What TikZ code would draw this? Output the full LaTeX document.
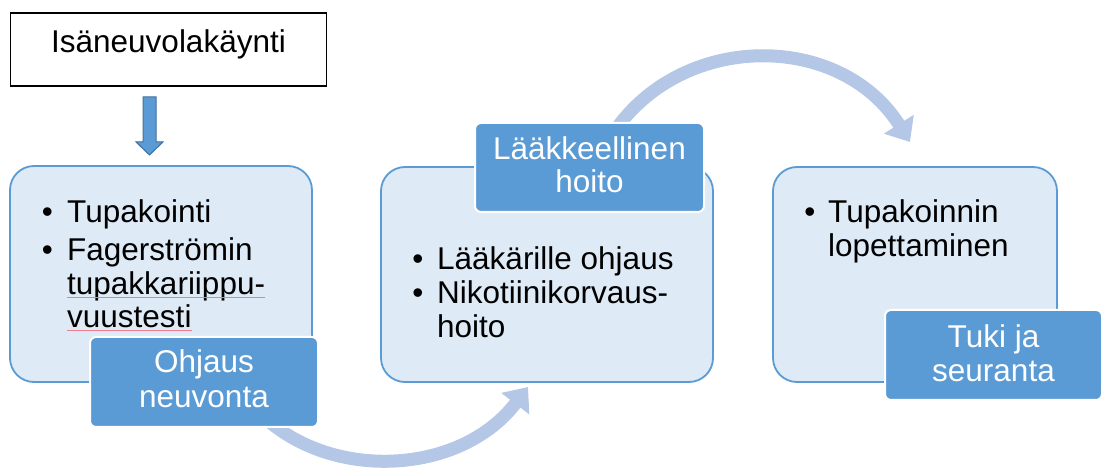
\documentclass[tikz,border=0pt]{standalone}
\usepackage{fontspec}
\setmainfont{Liberation Sans}
\usetikzlibrary{arrows.meta,calc}
\definecolor{boxfill}{RGB}{222,234,246}
\definecolor{accent}{RGB}{91,155,213}
\definecolor{accentdark}{RGB}{65,113,156}
\definecolor{flow}{RGB}{180,199,231}
\definecolor{spell}{RGB}{232,70,95}

\begin{document}
\begin{tikzpicture}[x=1pt,y=-1pt,
  bigfont/.style={font=\fontsize{31.5}{34}\selectfont},
  txt/.style={bigfont, inner sep=0pt, anchor=base west, text=black},
  dot/.style={bigfont, inner sep=0pt, anchor=base, text=black},
  lbltxt/.style={bigfont, inner sep=0pt, anchor=base, text=white},
  stagebox/.style={draw=accent, fill=boxfill, line width=1.8pt, rounded corners=24pt, inner sep=0pt},
  tagbox/.style={draw=white, fill=accent, line width=2pt, rounded corners=6pt, inner sep=0pt},
  headbox/.style={draw=black, fill=white, line width=1.5pt, inner sep=0pt},
  flowarrow/.style={draw=flow, line width=13pt, -{Triangle[length=21pt,width=34pt]}},
  squiggle/.style={draw=spell!70, line width=0.7pt}
]
\useasboundingbox (0,0) rectangle (1104,470);

% curved flow arrows (drawn first so the boxes cover their tails)
\coordinate (f1s) at (262,415);
\coordinate (f1e) at (528,387);
\draw[flowarrow] (f1s) .. controls (330,481) and (460,476) .. (f1e);
\coordinate (f2s) at (612,135);
\coordinate (f2e) at (910,142);
\draw[flowarrow] (f2s) .. controls (680,31) and (840,31) .. (f2e);

% heading box
\node[headbox, minimum width=316pt, minimum height=73pt] (head) at (168.5,49.5) {};
\node[bigfont, inner sep=0pt, anchor=base] (headtxt) at (168.5,53) {Isäneuvolakäynti};

% block arrow down
\coordinate (dn) at (149.5,97);
\draw[draw=accentdark, fill=accent, line width=1pt]
  ($(dn)+(-6.5,0)$) -- ($(dn)+(6.5,0)$) -- ($(dn)+(6.5,45)$) -- ($(dn)+(13.5,45)$)
  -- ($(dn)+(0,58)$) -- ($(dn)+(-13.5,45)$) -- ($(dn)+(-6.5,45)$) -- cycle;

% stage boxes
\node[stagebox, minimum width=302pt, minimum height=216pt] (s1) at (161,274) {};
\node[stagebox, minimum width=332pt, minimum height=215pt] (s2) at (547,274.5) {};
\node[stagebox, minimum width=284pt, minimum height=215pt] (s3) at (915,274.5) {};

% stage 1 contents
\node[dot] (d11) at (47.5,223) {•};
\node[txt] (t11) at (67,223) {Tupakointi};
\node[dot] (d12) at (47.5,261) {•};
\node[txt] (t12) at (67,261) {Fagerströmin};
\node[txt] (t13) at (67,294.5) {tupakkariippu-};
\node[txt] (t14) at (67,327.5) {vuustesti};
\draw[squiggle] ($(t13.base west)+(0,2.5)$) -- ($(t13.base east)+(0,2.5)$);
\draw[squiggle] ($(t14.base west)+(0,2.5)$) -- ($(t14.base east)+(0,2.5)$);

% stage 2 contents
\node[dot] (d21) at (418,270) {•};
\node[txt] (t21) at (437,270) {Lääkärille ohjaus};
\node[dot] (d22) at (418,304) {•};
\node[txt] (t22) at (437,304) {Nikotiinikorvaus-};
\node[txt] (t23) at (437,338) {hoito};

% stage 3 contents
\node[dot] (d31) at (810,223) {•};
\node[txt] (t31) at (828,223) {Tupakoinnin};
\node[txt] (t32) at (828,257) {lopettaminen};

% tag boxes
\node[tagbox, minimum width=228pt, minimum height=90pt] (g1) at (204,382) {};
\node[lbltxt] at (204,373) {Ohjaus};
\node[lbltxt] at (204,408) {neuvonta};

\node[tagbox, minimum width=229pt, minimum height=89pt] (g2) at (589.5,167.5) {};
\node[lbltxt] at (589.5,160) {Lääkkeellinen};
\node[lbltxt] at (589.5,193) {hoito};

\node[tagbox, minimum width=217pt, minimum height=90pt] (g3) at (993.5,355) {};
\node[lbltxt] at (993.5,348) {Tuki ja};
\node[lbltxt] at (993.5,382) {seuranta};
\end{tikzpicture}
\end{document}
